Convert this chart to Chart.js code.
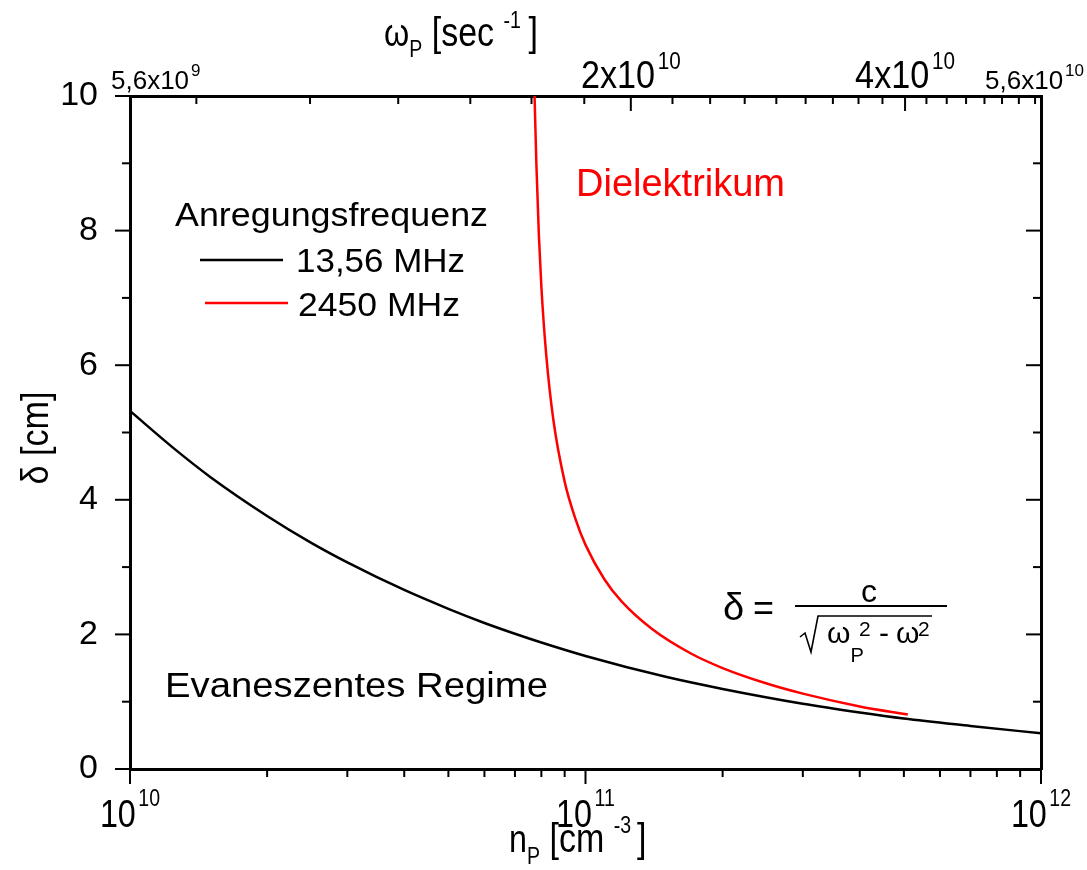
<!DOCTYPE html>
<html>
<head>
<meta charset="utf-8">
<script src="https://cdn.jsdelivr.net/npm/chart.js@4/dist/chart.umd.min.js"></script>
<style>
  html, body { margin: 0; padding: 0; background: #fff; }
  #wrap { width: 1087px; height: 870px; position: relative; }
</style>
</head>
<body>
<div id="wrap"><canvas id="c" width="1087" height="870"></canvas></div>
<script>
// ---- data ----
const nBlack = [1e10, 1.25e10, 1.5e10, 2e10, 2.5e10, 3e10, 4e10, 5e10, 6e10, 7e10, 8e10, 1e11, 1.5e11, 2e11, 3e11, 4e11, 5e11, 7e11, 1e12];
const deltaBlack = [5.32, 4.76, 4.34, 3.76, 3.36, 3.07, 2.66, 2.38, 2.17, 2.01, 1.88, 1.68, 1.37, 1.19, 0.97, 0.84, 0.75, 0.64, 0.53];

const nRed = [7.73e10, 7.8e10, 7.9e10, 8e10, 8.2e10, 8.5e10, 9e10, 9.5e10, 1e11, 1.1e11, 1.2e11, 1.4e11, 1.7e11, 2e11, 2.5e11, 3e11, 4e11, 5.1e11];
const deltaRed = [10, 9.0, 7.93, 7.17, 6.15, 5.19, 4.27, 3.72, 3.33, 2.82, 2.49, 2.08, 1.72, 1.50, 1.27, 1.12, 0.93, 0.81];

const seriesLabels = ['13,56 MHz', '2450 MHz'];

// bottom axis (n_P, cm^-3)
const nMin = 1e10, nMax = 1e12;
const nMajorTicks = [1e10, 1e11, 1e12];
const nMajorLabels = [['10', '10'], ['10', '11'], ['10', '12']];
const nMinorTicks = [2e10, 3e10, 4e10, 5e10, 6e10, 7e10, 8e10, 9e10, 2e11, 3e11, 4e11, 5e11, 6e11, 7e11, 8e11, 9e11];

// top axis (omega_P, sec^-1)
const wMin = 5.64e9, wMax = 5.64e10;
const wMajorTicks = [2e10, 4e10];
const wMajorLabels = [['2x10', '10'], ['4x10', '10']];
const wEndLabels = [['5,6x10', '9'], ['5,6x10', '10']];
const wMinorTicks = [6.67e9, 8.89e9, 1.111e10, 1.333e10, 1.556e10, 1.778e10, 2.222e10, 2.444e10, 2.667e10, 2.889e10,
  3.111e10, 3.333e10, 3.556e10, 3.778e10, 4.222e10, 4.444e10, 4.667e10, 4.889e10, 5.111e10, 5.333e10, 5.556e10];

// y axis (delta, cm)
const yMin = 0, yMax = 10;
const yMajorTicks = [0, 2, 4, 6, 8, 10];
const yMinorTicks = [1, 3, 5, 7, 9];

// ---- drawing ----
const FONT = "'Liberation Sans', Arial, Helvetica, sans-serif";

function toPoints(xs, ys) { return xs.map((x, i) => ({ x: x, y: ys[i] })); }

function setFont(ctx, size) { ctx.font = size + 'px ' + FONT; }

function text(ctx, s, x, y, size, o) {
  o = o || {};
  ctx.save();
  setFont(ctx, size);
  ctx.fillStyle = o.color || '#000';
  ctx.textBaseline = o.baseline || 'alphabetic';
  ctx.textAlign = o.align || 'left';
  if (o.w) {
    const m = ctx.measureText(s).width;
    ctx.translate(x, y);
    ctx.scale(o.w / m, 1);
    ctx.fillText(s, 0, 0);
  } else {
    ctx.fillText(s, x, y);
  }
  ctx.restore();
}

// parts: [{t, s, dy, gap}] ; xs = horizontal condensing factor
function rich(ctx, parts, x, y, align, xs, color) {
  xs = xs || 1;
  ctx.save();
  ctx.fillStyle = color || '#000';
  ctx.textBaseline = 'alphabetic';
  ctx.textAlign = 'left';
  let total = 0;
  const widths = parts.map(p => { setFont(ctx, p.s); const w = ctx.measureText(p.t).width + (p.gap || 0); total += w; return w; });
  total *= xs;
  let cx = x;
  if (align === 'center') cx = x - total / 2;
  else if (align === 'right') cx = x - total;
  ctx.translate(cx, y);
  ctx.scale(xs, 1);
  let px = 0;
  parts.forEach((p, i) => {
    setFont(ctx, p.s);
    ctx.fillText(p.t, px + (p.gap || 0), (p.dy || 0));
    px += widths[i];
  });
  ctx.restore();
}

const decorPlugin = {
  id: 'decor',
  afterDraw(chart) {
    const ctx = chart.ctx;
    const sx = chart.scales.x, sx2 = chart.scales.x2, sy = chart.scales.y;
    const ca = chart.chartArea;
    ctx.save();
    ctx.strokeStyle = '#000';
    ctx.lineWidth = 2;
    ctx.lineCap = 'butt';
    function seg(x1, y1, x2, y2) { ctx.beginPath(); ctx.moveTo(x1, y1); ctx.lineTo(x2, y2); ctx.stroke(); }
    const MAJ = 15, MIN = 8;
    // bottom ticks (outward)
    nMajorTicks.forEach(v => { const p = sx.getPixelForValue(v); seg(p, ca.bottom, p, ca.bottom + MAJ); });
    nMinorTicks.forEach(v => { const p = sx.getPixelForValue(v); seg(p, ca.bottom, p, ca.bottom + MIN); });
    // top ticks (inward)
    wMajorTicks.forEach(v => { const p = sx2.getPixelForValue(v); seg(p, ca.top, p, ca.top + MAJ); });
    wMinorTicks.forEach(v => { const p = sx2.getPixelForValue(v); seg(p, ca.top, p, ca.top + MIN); });
    // left ticks (outward) and right ticks (inward)
    yMajorTicks.forEach(v => { const p = sy.getPixelForValue(v); seg(ca.left - MAJ, p, ca.left, p); seg(ca.right - MAJ, p, ca.right, p); });
    yMinorTicks.forEach(v => { const p = sy.getPixelForValue(v); seg(ca.left - MIN, p, ca.left, p); seg(ca.right - MIN, p, ca.right, p); });
    ctx.restore();

    // bottom tick labels
    nMajorTicks.forEach((v, i) => {
      const p = sx.getPixelForValue(v);
      rich(ctx, [{ t: nMajorLabels[i][0], s: 38 }, { t: nMajorLabels[i][1], s: 23, dy: -21, gap: 3 }], p, 827, 'center', 0.85);
    });
    // top tick labels
    wMajorTicks.forEach((v, i) => {
      const p = sx2.getPixelForValue(v);
      rich(ctx, [{ t: wMajorLabels[i][0], s: 38 }, { t: wMajorLabels[i][1], s: 23, dy: -19, gap: 3 }], p, 88, 'center', 0.9);
    });
    rich(ctx, [{ t: wEndLabels[0][0], s: 26 }, { t: wEndLabels[0][1], s: 17, dy: -13, gap: 2 }], sx2.getPixelForValue(wMin) - 19, 89, 'left', 1);
    rich(ctx, [{ t: wEndLabels[1][0], s: 26 }, { t: wEndLabels[1][1], s: 17, dy: -13, gap: 2 }], sx2.getPixelForValue(wMax) + 43, 89, 'right', 1);

    // axis titles
    rich(ctx, [{ t: '\u03C9', s: 38 }, { t: 'P', s: 23, dy: 11 }, { t: ' [sec ', s: 40 }, { t: '-1', s: 23, dy: -18 }, { t: ']', s: 40, gap: 9 }], 384, 46, 'left', 0.85);
    rich(ctx, [{ t: 'n', s: 38 }, { t: 'P', s: 23, dy: 12 }, { t: ' [cm ', s: 40 }, { t: '-3', s: 23, dy: -19 }, { t: ']', s: 40, gap: 7 }], 509, 852, 'left', 0.85);
    ctx.save();
    ctx.translate(36, 438);
    ctx.rotate(-Math.PI / 2);
    rich(ctx, [{ t: '\u03B4 [cm]', s: 38 }], 0, 12, 'center', 0.9);
    ctx.restore();

    // legend
    text(ctx, 'Anregungsfrequenz', 175, 226, 34, { w: 313 });
    ctx.save();
    ctx.lineWidth = 2.5;
    ctx.strokeStyle = '#000';
    ctx.beginPath(); ctx.moveTo(200, 260); ctx.lineTo(283, 260); ctx.stroke();
    ctx.strokeStyle = '#ff0000';
    ctx.beginPath(); ctx.moveTo(205, 303); ctx.lineTo(288, 303); ctx.stroke();
    ctx.restore();
    text(ctx, seriesLabels[0], 296, 272, 34, { w: 169 });
    text(ctx, seriesLabels[1], 298, 316, 34, { w: 162 });

    // annotations
    text(ctx, 'Dielektrikum', 576, 196, 38, { color: '#ff0000', w: 209 });
    text(ctx, 'Evaneszentes Regime', 165, 697, 35, { w: 383 });

    // formula
    text(ctx, '\u03B4', 723, 620, 38);
    text(ctx, '=', 753, 620, 36, { w: 21 });
    text(ctx, 'c', 861, 602, 32);
    ctx.save();
    ctx.strokeStyle = '#000';
    ctx.lineWidth = 2;
    ctx.beginPath(); ctx.moveTo(795, 606); ctx.lineTo(947, 606); ctx.stroke();
    ctx.lineWidth = 1.6;
    ctx.beginPath();
    ctx.moveTo(800, 637); ctx.lineTo(805, 633); ctx.lineTo(811, 652); ctx.lineTo(818, 616); ctx.lineTo(932, 616);
    ctx.stroke();
    ctx.restore();
    rich(ctx, [{ t: '\u03C9', s: 30 }, { t: 'P', s: 20, dy: 19 }], 827, 643, 'left');
    text(ctx, '2', 859, 636, 21);
    text(ctx, '-', 879, 643, 30);
    text(ctx, '\u03C9', 896, 643, 30);
    text(ctx, '2', 918, 636, 21);
  }
};

const ctx = document.getElementById('c').getContext('2d');
new Chart(ctx, {
  type: 'line',
  data: {
    datasets: [
      { label: seriesLabels[0], data: toPoints(nBlack, deltaBlack), borderColor: '#000000', borderWidth: 2.5,
        pointRadius: 0, cubicInterpolationMode: 'monotone', fill: false },
      { label: seriesLabels[1], data: toPoints(nRed, deltaRed), borderColor: '#ff0000', borderWidth: 2.5,
        pointRadius: 0, cubicInterpolationMode: 'monotone', fill: false }
    ]
  },
  options: {
    responsive: false,
    animation: false,
    devicePixelRatio: 1,
    layout: { padding: 0 },
    plugins: { legend: { display: false }, tooltip: { enabled: false } },
    scales: {
      x: {
        type: 'logarithmic', position: 'bottom', min: nMin, max: nMax,
        afterBuildTicks: s => { s.ticks = nMajorTicks.map(v => ({ value: v })); },
        afterFit: s => { s.height = 101; },
        grid: { display: false },
        border: { display: true, color: '#000', width: 3 },
        ticks: { display: false }
      },
      x2: {
        type: 'logarithmic', position: 'top', min: wMin, max: wMax,
        afterBuildTicks: s => { s.ticks = wMajorTicks.map(v => ({ value: v })); },
        afterFit: s => { s.height = 96; },
        grid: { display: false },
        border: { display: true, color: '#000', width: 3 },
        ticks: { display: false }
      },
      y: {
        type: 'linear', position: 'left', min: yMin, max: yMax,
        afterBuildTicks: s => { s.ticks = yMajorTicks.map(v => ({ value: v })); },
        afterFit: s => { s.width = 130; },
        grid: { display: false },
        border: { display: true, color: '#000', width: 3 },
        ticks: { color: '#000', padding: 24, font: { family: FONT, size: 34 } }
      },
      y2: {
        type: 'linear', position: 'right', min: yMin, max: yMax,
        afterFit: s => { s.width = 46; },
        grid: { display: false },
        border: { display: true, color: '#000', width: 3 },
        ticks: { display: false }
      }
    }
  },
  plugins: [decorPlugin]
});
</script>
</body>
</html>
